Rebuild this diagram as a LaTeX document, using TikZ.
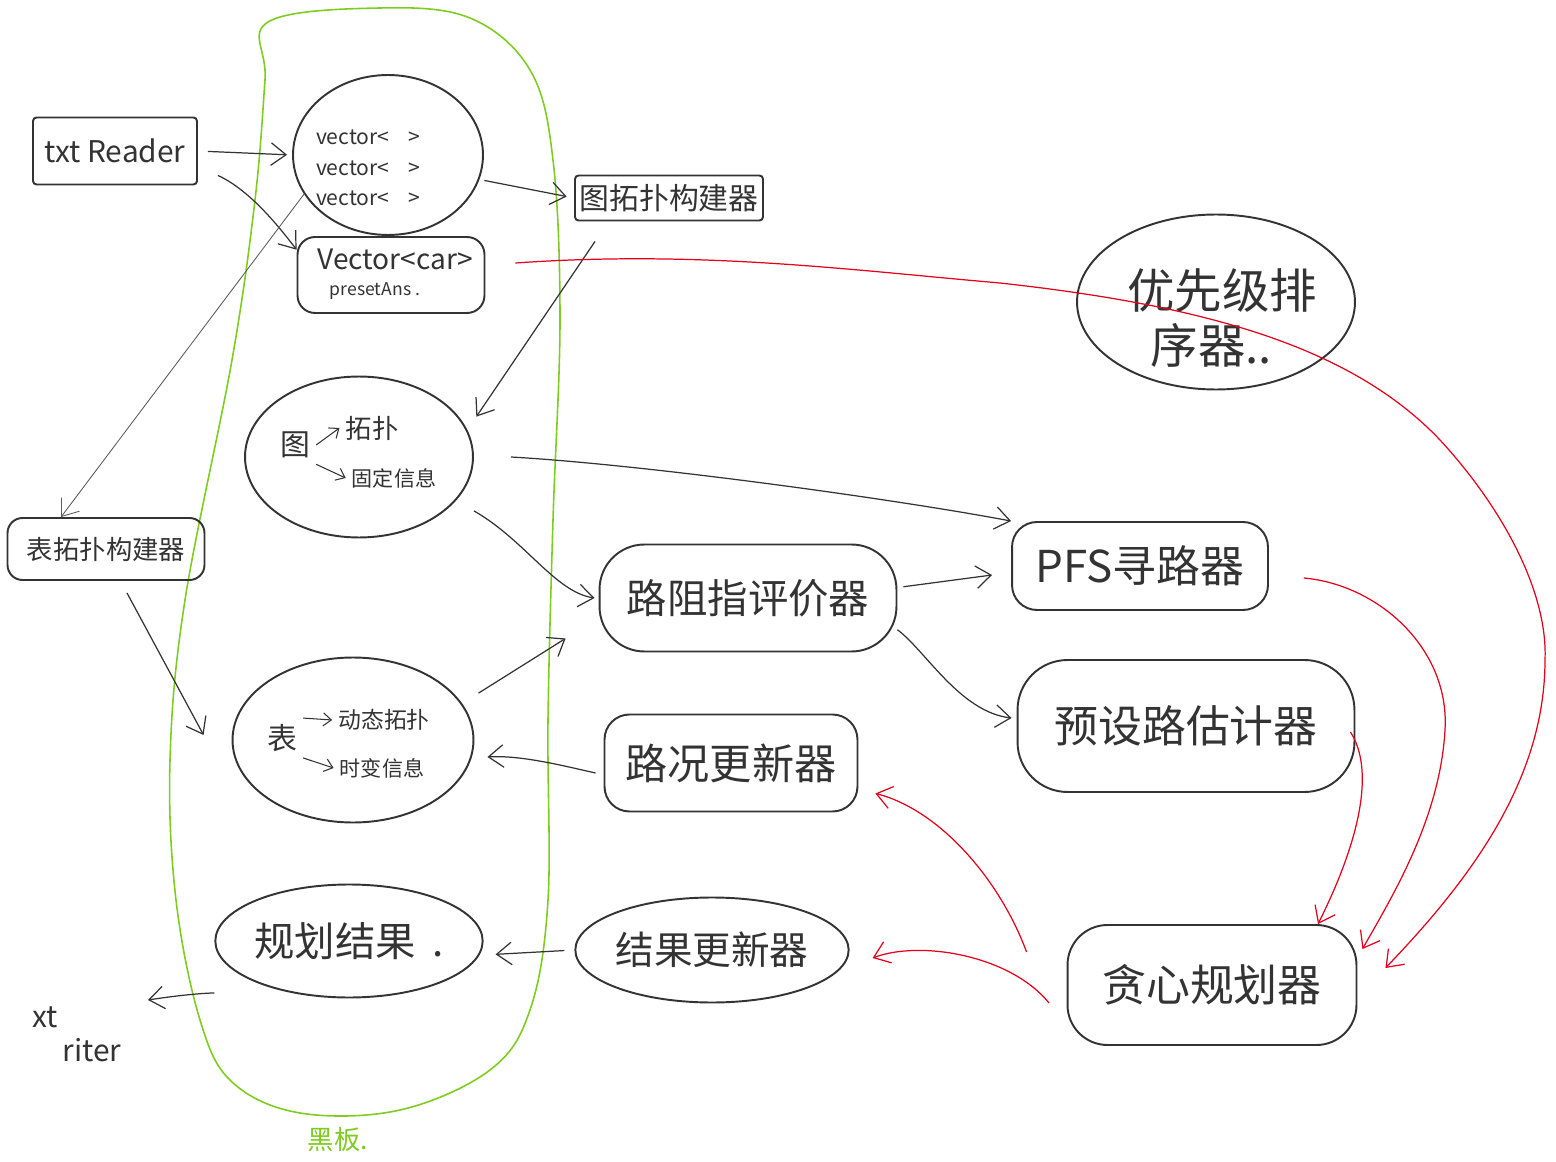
\documentclass[tikz,border=0pt]{standalone}
\usepackage{fontspec}
\setmainfont{Noto Sans CJK SC}
\usetikzlibrary{arrows.meta,positioning,shapes.geometric}
\definecolor{inkgray}{HTML}{333333}
\definecolor{inkred}{HTML}{E5001A}
\definecolor{inkgreen}{HTML}{7DCC1F}

\begin{document}
\begin{tikzpicture}[x=0.02cm,y=-0.02cm,
  every node/.style={text=inkgray},
  box/.style={draw=inkgray,line width=1.1pt,rounded corners=2pt,align=center,inner sep=0pt},
  blob/.style={box,rounded corners=0.9cm},
  oval/.style={draw=inkgray,line width=1.1pt,ellipse,inner sep=0pt},
  ar/.style={-{Straight Barb[length=3mm,width=4.5mm]},inkgray,line width=0.7pt},
  sar/.style={-{Straight Barb[length=1.6mm,width=2.6mm]},inkgray,line width=0.6pt},
  rar/.style={ar,inkred},
  fbig/.style={font=\fontsize{25}{30}\selectfont},
  fmid/.style={font=\fontsize{17}{20}\selectfont}]
  \useasboundingbox (0,0) rectangle (1556,1162);
  % blackboard
  \draw[inkgreen,line width=0.9pt] plot[smooth cycle,tension=0.6] coordinates {
    (268,22) (380,8) (470,18) (530,70) (553,160) (560,320) (553,520) (548,720)
    (548,900) (530,1010) (490,1070) (400,1110) (300,1113) (232,1082) (200,1020)
    (176,900) (170,760) (185,600) (232,360) (255,200) (265,80)};
  \node[text=inkgreen,font=\fontsize{15}{18}\selectfont] (bbl) at (338,1140) {黑板.};
  % readers and vectors
  \node[box,minimum width=3.28cm,minimum height=1.34cm,fmid] (txt) at (115,151) {txt Reader};
  \node[oval,minimum width=3.8cm,minimum height=3.2cm] (vec) at (388,155) {};
  \node[align=left,font=\fontsize{12}{17.5}\selectfont] (vecl) at (368,168) {vector<\ \ \ \ >\\vector<\ \ \ \ >\\vector<\ \ \ \ >};
  \node[box,rounded corners=0.35cm,minimum width=3.74cm,minimum height=1.52cm] (car) at (391,275) {};
  \node[font=\fontsize{16}{18}\selectfont] (carl) at (395,259) {Vector<car>};
  \node[font=\fontsize{10}{12}\selectfont] (ans) at (375,291) {presetAns .};
  \node[box,minimum width=3.76cm,minimum height=0.9cm,fmid] (gtb) at (669,198) {图拓扑构建器};
  \node[oval,minimum width=5.56cm,minimum height=3.5cm] (pri) at (1216,302) {};
  \node[align=left,font=\fontsize{27}{31}\selectfont] (pril) at (1222,318) {优先级排\\\hspace{0.5em}序器..};
  % graph
  \node[oval,minimum width=4.56cm,minimum height=3.22cm] (gr) at (359,457) {};
  \node[fmid] (gg) at (295,445) {图};
  \node[font=\fontsize{15}{18}\selectfont] (gtop) at (372,428) {拓扑};
  \node[font=\fontsize{12}{14}\selectfont] (ginf) at (394,478) {固定信息};
  \draw[sar] (gg.east) -- (gtop.west);
  \draw[sar] (gg.south east) -- (ginf.west);
  \node[box,rounded corners=0.3cm,minimum width=3.94cm,minimum height=1.24cm,font=\fontsize{15}{18}\selectfont] (ttb) at (106,549) {表拓扑构建器};
  % table
  \node[oval,minimum width=4.82cm,minimum height=3.3cm] (tbl) at (353,740) {};
  \node[fmid] (tt) at (282,738) {表};
  \node[font=\fontsize{13}{15}\selectfont] (tdyn) at (384,720) {动态拓扑};
  \node[font=\fontsize{12}{14}\selectfont] (tvar) at (382,768) {时变信息};
  \draw[sar] (tt.north east) -- (tdyn.west);
  \draw[sar] (tt.south east) -- (tvar.west);
  % workers
  \node[blob,minimum width=5.94cm,minimum height=2.14cm,font=\fontsize{23}{26}\selectfont] (eva) at (748,598) {路阻指评价器};
  \node[blob,rounded corners=0.5cm,minimum width=5.12cm,minimum height=1.76cm,fbig] (pfs) at (1140,566) {PFS寻路器};
  \node[blob,rounded corners=1cm,minimum width=6.74cm,minimum height=2.64cm,fbig] (pre) at (1186,726) {预设路估计器};
  \node[box,rounded corners=0.5cm,minimum width=5.06cm,minimum height=1.94cm,font=\fontsize{24}{28}\selectfont] (road) at (731,763) {路况更新器};
  \node[oval,minimum width=4.96cm,minimum height=2.26cm,font=\fontsize{23}{26}\selectfont] (plan) at (349,941) {规划结果\hspace{0.4em}.};
  \node[oval,minimum width=4.9cm,minimum height=2.1cm,font=\fontsize{22}{26}\selectfont] (res) at (712,950) {结果更新器};
  \node[blob,rounded corners=0.8cm,minimum width=5.78cm,minimum height=2.4cm,fbig] (greedy) at (1212,985) {贪心规划器};
  \node[fmid] (xt) at (45,1017) {xt};
  \node[fmid] (riter) at (92,1050) {riter};
  \coordinate (wend) at (148,1000);
  % black links
  \draw[ar,shorten <=0.2cm,shorten >=0.1cm] (txt.east) -- (vec.west);
  \draw[ar] ([xshift=0.4cm,yshift=0.2cm]txt.south east) .. controls (250,190) and (280,228) .. (car.165);
  \draw[ar,shorten <=0.1cm,shorten >=0.15cm] (vec.-15) -- (gtb.west);
  \draw[ar,line width=0.5pt,inkgray!80] (vec.205) -- ([xshift=-0.9cm]ttb.north);
  \draw[ar] ([xshift=-1.48cm,yshift=-0.4cm]gtb.south) -- ([xshift=0.35cm]gr.22);
  \draw[ar] ([xshift=0.42cm,yshift=-0.24cm]ttb.south) -- ([xshift=-0.56cm,yshift=0.1cm]tbl.west);
  \draw[ar] ([xshift=0.74cm]gr.east) .. controls (650,465) and (900,500) .. (pfs.north west);
  \draw[ar] ([xshift=0.46cm,yshift=-0.1cm]gr.-28) .. controls (525,540) and (555,592) .. ([xshift=-0.08cm]eva.west);
  \draw[ar] ([xshift=0.5cm]tbl.25) -- ([xshift=-0.66cm,yshift=0.28cm]eva.south west);
  \draw[ar,shorten <=0.12cm] (eva.4) -- ([xshift=-0.38cm,yshift=-0.18cm]pfs.west);
  \draw[ar] (eva.-12) .. controls (925,650) and (960,712) .. ([xshift=-0.1cm,yshift=0.16cm]pre.west);
  \draw[ar] ([xshift=-0.16cm,yshift=-0.2cm]road.west) .. controls (560,765) and (520,755) .. ([xshift=0.26cm,yshift=-0.34cm]tbl.east);
  \draw[ar,shorten <=0.2cm,shorten >=0.24cm] (res.west) -- ([yshift=-0.28cm]plan.east);
  \draw[ar] ([yshift=-1.04cm]plan.west) .. controls (205,993) and (180,995) .. (wend);
  % red links
  \draw[rar] ([xshift=0.6cm,yshift=0.24cm]car.east) .. controls (700,250) and (850,270) .. (1000,283)
    .. controls (1200,305) and (1350,345) .. (1440,440)
    .. controls (1500,505) and (1548,590) .. (1545,660)
    .. controls (1545,780) and (1470,880) .. ([xshift=0.56cm,yshift=0.34cm]greedy.east);
  \draw[rar] ([xshift=0.7cm,yshift=-0.24cm]pfs.east) .. controls (1380,585) and (1450,650) .. (1445,730)
    .. controls (1440,820) and (1390,900) .. ([xshift=0.1cm,yshift=-0.5cm]greedy.north east);
  \draw[rar] ([xshift=-0.1cm,yshift=-0.12cm]pre.east) .. controls (1375,770) and (1360,840) .. ([xshift=2.12cm]greedy.north);
  \draw[rar] ([xshift=-0.8cm,yshift=0.66cm]greedy.west) .. controls (1000,880) and (940,810) .. ([xshift=0.34cm,yshift=0.38cm]road.south east);
  \draw[rar] ([xshift=-0.35cm,yshift=-0.36cm]greedy.west) .. controls (1010,955) and (920,940) .. ([xshift=0.46cm,yshift=-0.16cm]res.east);
\end{tikzpicture}
\end{document}
